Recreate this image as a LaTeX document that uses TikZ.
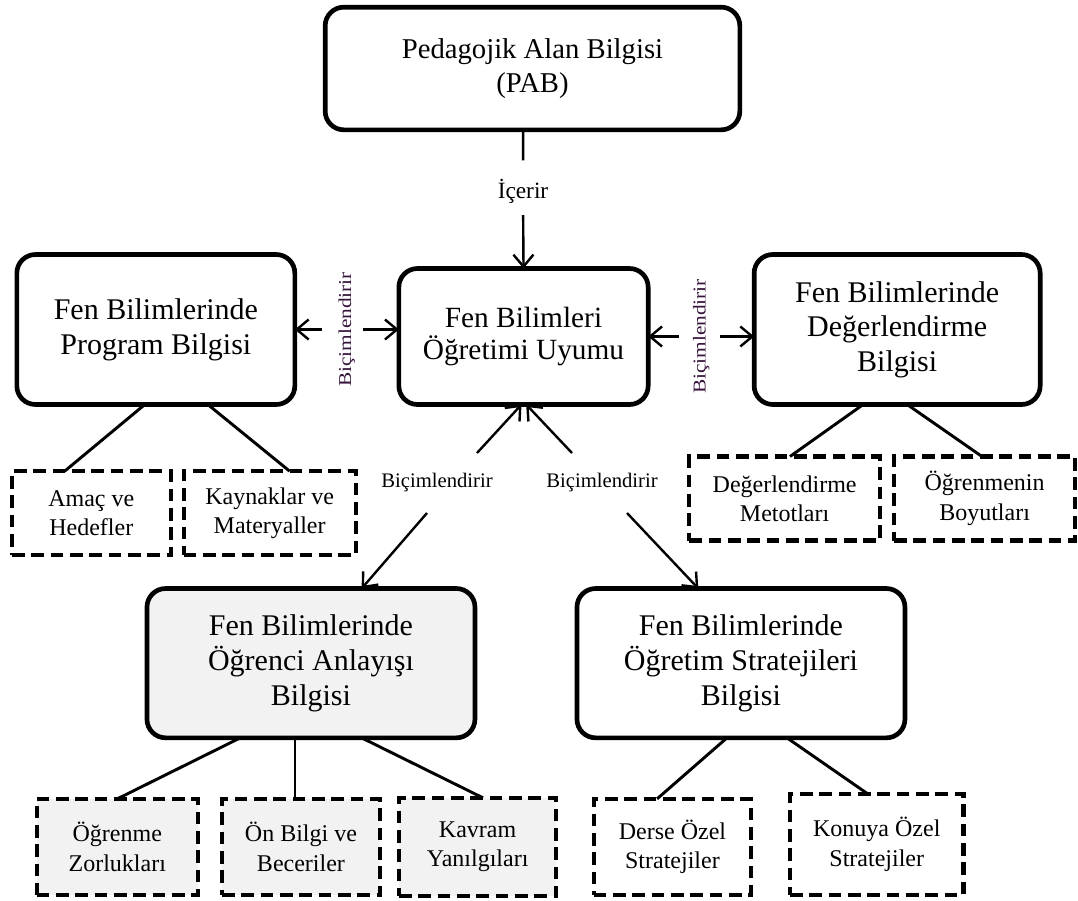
\documentclass[tikz,border=0pt]{standalone}
\usepackage{fontspec}
\setmainfont{Liberation Serif}
\usetikzlibrary{arrows.meta,positioning,calc}
\definecolor{boxgray}{RGB}{242,242,242}
\definecolor{lblpurple}{RGB}{55,20,60}

\begin{document}
\begin{tikzpicture}[x=0.75pt,y=-0.75pt,
	block/.style={draw, rounded corners=14pt, line width=3.5pt,
		outer sep=0pt, align=center, font=\fontsize{22.5}{26}\selectfont},
	subblock/.style={draw, dash pattern=on 9.5pt off 5pt, line width=3.2pt,
		minimum height=63pt, outer sep=0pt, align=center,
		font=\fontsize{18}{22}\selectfont},
	conn/.style={line width=2.2pt},
	arr/.style={line width=1.8pt,
		-{Straight Barb[length=9pt,width=15pt,line width=1.8pt]}},
	lbl/.style={inner sep=0pt, font=\fontsize{15.5}{18}\selectfont},
	vlbl/.style={lbl, text=lblpurple, rotate=90, yscale=0.85,
		font=\fontsize{16}{18}\selectfont}]
	\useasboundingbox (0,0) rectangle (1078,900);

	% draw rectangle node
	\node[block,
	minimum width=311pt,
	minimum height=92pt,
	font=\fontsize{21.5}{26}\selectfont] (pab) at (532.5,68.5) {
	Pedagojik Alan Bilgisi\\(PAB)
	};
	\node[block,
	minimum width=187pt,
	minimum height=102pt,
	below=104pt of pab, xshift=-6.75pt,
	font=\fontsize{22}{24}\selectfont] (uyum) {
	Fen Bilimleri\\Öğretimi Uyumu
	};
	\node[block,
	minimum width=208.5pt,
	minimum height=112.5pt,
	left=78pt of uyum, yshift=5.25pt] (program) {
	Fen Bilimlerinde\\Program Bilgisi
	};
	\node[block,
	minimum width=214.5pt,
	minimum height=112.5pt,
	right=79.5pt of uyum, yshift=5.25pt] (degerlendirme) {
	Fen Bilimlerinde\\Değerlendirme\\Bilgisi
	};
	\node[block, fill=boxgray,
	minimum width=246pt,
	minimum height=112pt,
	below=138pt of uyum, xshift=-159.4pt] (ogrenci) {
	Fen Bilimlerinde\\Öğrenci Anlayışı\\Bilgisi
	};
	\node[block,
	minimum width=246pt,
	minimum height=112pt,
	below=138pt of uyum, xshift=163.1pt] (ogretim) {
	Fen Bilimlerinde\\Öğretim Stratejileri\\Bilgisi
	};

	% dashed nodes
	\node[subblock, minimum width=119pt,
	below=50pt of program, xshift=-48.4pt] (amac) {Amaç ve\\Hedefler};
	\node[subblock, minimum width=129pt,
	right=9.75pt of amac] (kaynak) {Kaynaklar ve\\Materyaller};
	\node[subblock, minimum width=143pt,
	below=39pt of degerlendirme, xshift=-84.4pt] (metot) {Değerlendirme\\Metotları};
	\node[subblock, minimum width=136pt,
	right=10.5pt of metot] (boyut) {Öğrenmenin\\Boyutları};
	\node[subblock, fill=boxgray, minimum width=118.5pt, minimum height=72pt,
	below=45.75pt of ogrenci, xshift=-7.5pt] (onbilgi) {Ön Bilgi ve\\Beceriler};
	\node[subblock, fill=boxgray, minimum width=121pt, minimum height=72pt,
	left=18pt of onbilgi] (zorluk) {Öğrenme\\Zorlukları};
	\node[subblock, fill=boxgray, minimum width=118pt, minimum height=73.5pt,
	right=14.25pt of onbilgi] (kavram) {Kavram\\Yanılgıları};
	\node[subblock, minimum width=118pt, minimum height=72pt,
	below=45.75pt of ogretim, xshift=-51.4pt] (derse) {Derse Özel\\Stratejiler};
	\node[subblock, minimum width=130pt, minimum height=76pt,
	right=29.25pt of derse, yshift=1.9pt] (konuya) {Konuya Özel\\Stratejiler};

	% Lines
	\draw[conn] ([xshift=-8.25pt]program.south) -- ([xshift=-20pt]amac.north);
	\draw[conn] ([xshift=39pt]program.south) -- ([xshift=15pt]kaynak.north);
	\draw[conn] ([xshift=-25.5pt]degerlendirme.south) -- ([xshift=4pt]metot.north);
	\draw[conn] ([xshift=7.5pt]degerlendirme.south) -- ([xshift=-2pt]boyut.north);
	\draw[conn] ([xshift=-53pt]ogrenci.south) -- (zorluk.north);
	\draw[conn] ([xshift=-12pt]ogrenci.south) -- ([xshift=-4.5pt]onbilgi.north);
	\draw[conn] ([xshift=38pt]ogrenci.south) -- ([xshift=4pt]kavram.north);
	\draw[conn] ([xshift=-10.5pt]ogretim.south) -- ([xshift=-11.5pt]derse.north);
	\draw[conn] ([xshift=34.5pt]ogretim.south) -- ([xshift=-7pt]konuya.north);

	% Labels
	\node[lbl, font=\fontsize{17.5}{18}\selectfont] (icerir) at (523,191) {İçerir};
	\node[vlbl] (bicimSol) at ($(program.east)!0.5!([yshift=5.25pt]uyum.west)$) {Biçimlendirir};
	\node[vlbl] (bicimSag) at ($(uyum.east)!0.5!([yshift=-5.25pt]degerlendirme.west)$) {Biçimlendirir};
	\node[lbl] (bicimAltSol) at (437,483) {Biçimlendirir};
	\node[lbl] (bicimAltSag) at (602,483) {Biçimlendirir};
	\coordinate (upSol) at (477,453);
	\coordinate (upSag) at (572,453);
	\coordinate (downSol) at (427,513);
	\coordinate (downSag) at (627,513);

	% Arrows
	\draw[conn, line width=1.8pt, shorten >=23pt] ([xshift=-7pt]pab.south) -- (icerir.center);
	\draw[arr, shorten <=18pt] (icerir.center) -- (uyum.north);
	\draw[arr, shorten <=18.75pt] (bicimSol.center) -- (program.east);
	\draw[arr, shorten <=12pt] (bicimSol.center) -- ([yshift=5.25pt]uyum.west);
	\draw[arr, shorten <=17pt] (bicimSag.center) -- (uyum.east);
	\draw[arr, shorten <=14pt] (bicimSag.center) -- ([yshift=-5.25pt]degerlendirme.west);
	\draw[arr] (upSol) -- ([xshift=-1.5pt]uyum.south);
	\draw[arr] (upSag) -- ([xshift=2pt]uyum.south);
	\draw[arr] (downSol) -- ([xshift=38pt]ogrenci.north);
	\draw[arr] (downSag) -- ([xshift=-32pt]ogretim.north);
\end{tikzpicture}
\end{document}
